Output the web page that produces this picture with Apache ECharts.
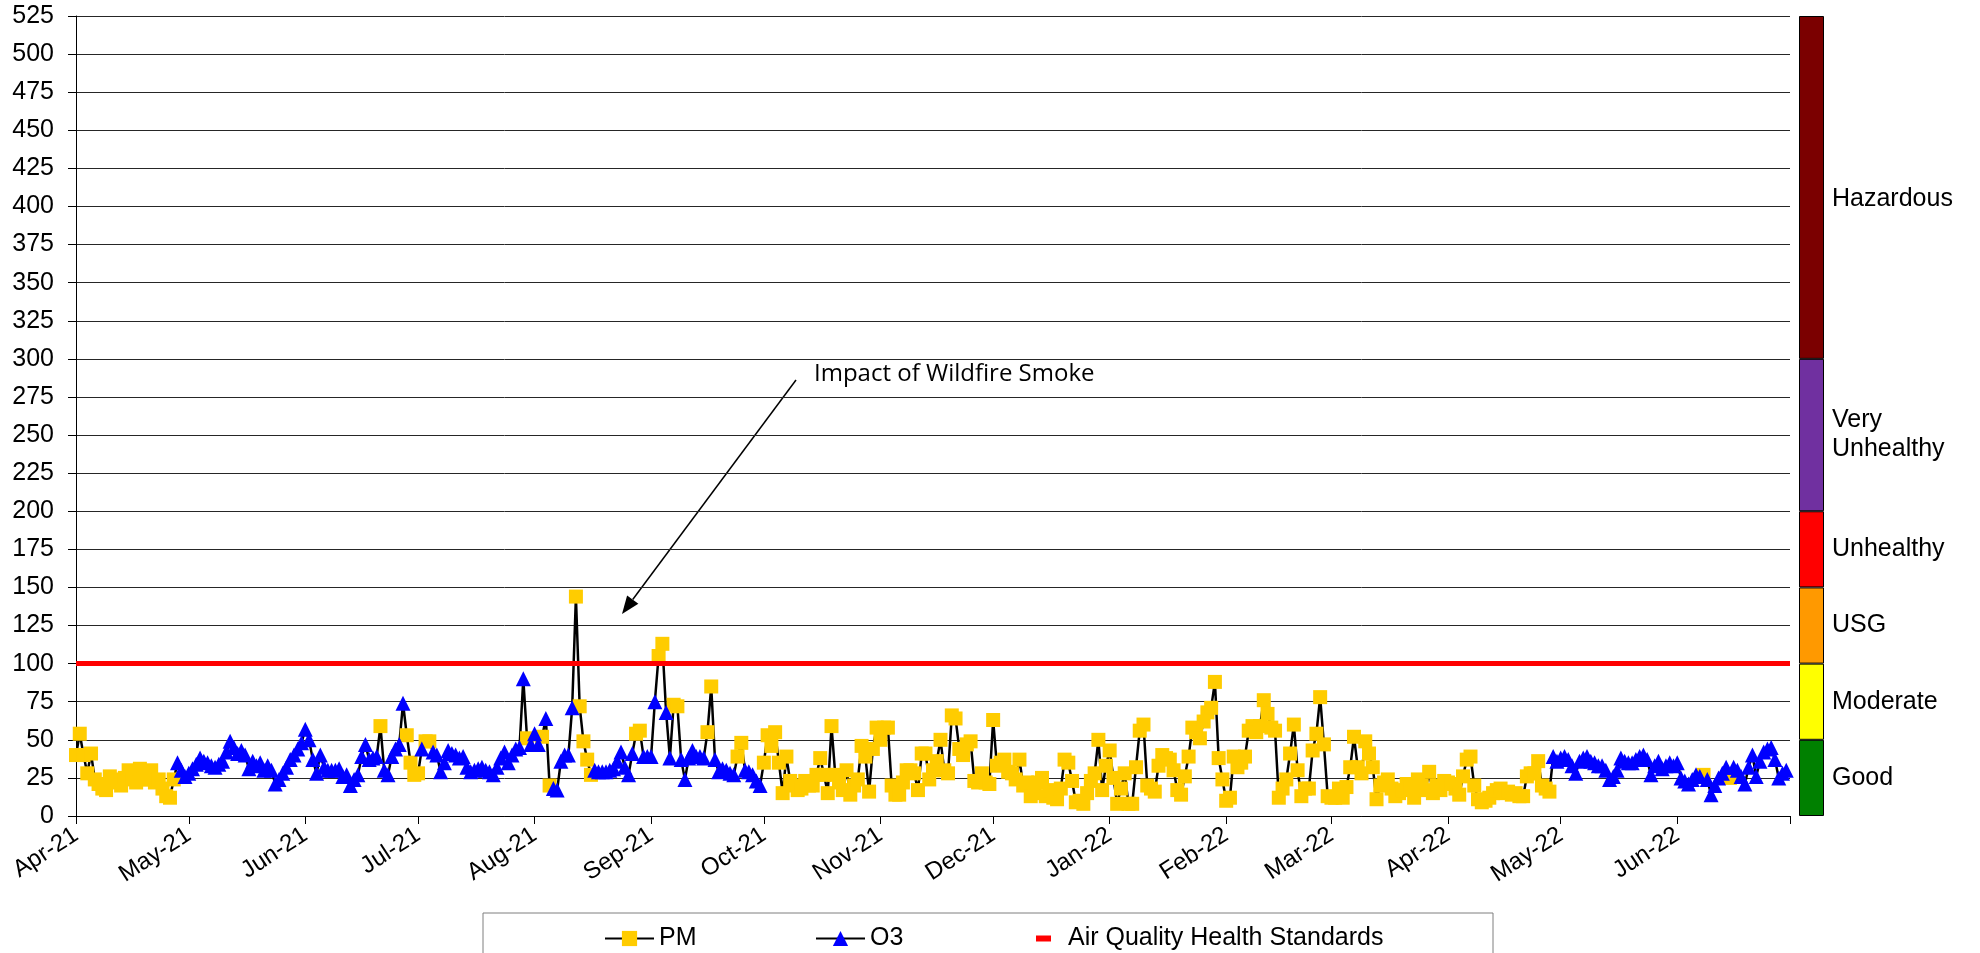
<!DOCTYPE html>
<html>
<head>
<meta charset="utf-8">
<title>Air Quality</title>
<script src="https://cdn.jsdelivr.net/npm/echarts@6/dist/echarts.min.js"></script>
<style>
  html, body { margin: 0; padding: 0; background: #fff; }
  #main { width: 1980px; height: 953px; }
</style>
</head>
<body>
<div id="main"></div>
<script>
// daily AQI values, one array per month; P = PM dominant, O = O3 dominant
var apr21 = [40,54,40,28,41,24,21,18,17,26,22,24,20,25,30,24,22,31,24,24,30,22,24,18,13,12,24,35,30,26];
var apr21T = 'PPPPPPPPPPPPPPPPPPPPPPPPPPPOOO';
var may21 = [28,31,34,38,36,35,33,32,34,36,42,49,45,41,43,40,31,36,33,35,30,33,30,21,24,28,32,37,40,44,48];
var may21T = 'OOOOOOOOOOOOOOOOOOOOOOOOOOOOOOO';
var jun21 = [57,50,37,28,40,32,30,30,30,31,26,27,20,24,27,39,47,37,38,39,59,30,27,39,44,47,74,53,35,27];
var jun21T = 'OOOOOOOOOOOOOOOOOOOOPOOOOOOPPP';
var jul21 = [28,44,49,49,42,40,29,35,43,41,40,38,39,32,29,30,31,32,30,29,27,32,38,42,35,40,44,45,90,51,47];
var jul21T = 'POPPOOOOOOOOOOOOOOOOOOOOOOOOOPO';
var aug21 = [54,47,52,64,20,18,17,36,40,40,71,144,72,49,37,27,30,29,29,29,30,31,36,42,32,27,41,54,56,39,39];
var aug21T = 'OOPOPOOOOOOPPPPPOOOOOOOOOOOPPOO';
var sep21 = [39,75,105,113,68,38,73,72,37,24,38,43,39,39,38,55,85,37,29,31,30,28,27,39,48,30,29,27,23,20];
var sep21T = 'OOPPOOPPOOOOOOOPPOOOOOOPPOOOOO';
var oct21 = [35,53,46,55,35,15,39,23,20,17,18,23,20,20,27,38,27,15,59,27,22,17,30,14,20,24,46,39,16,44,58];
var oct21T = 'PPPPPPPPPPPPPPPPPPPPPPPPPPPPPPP';
var nov21 = [50,58,58,20,14,14,22,30,30,28,17,41,41,24,30,36,50,30,28,66,64,44,40,47,49,23,22,28,22,21];
var nov21T = 'PPPPPPPPPPPPPPPPPPPPPPPPPPPPPP';
var dec21 = [63,33,35,37,29,28,24,37,20,22,13,15,22,25,13,17,12,11,18,37,35,23,9,10,8,15,23,28,50,17,33];
var dec21T = 'PPPPPPPPPPPPPPPPPPPPPPPPPPPPPPP';
var jan22 = [43,25,8,18,28,8,8,32,56,60,20,18,16,33,40,38,37,30,17,14,26,39,58,55,51,62,68,71,88,38,24];
var jan22T = 'PPPPPPPPPPPPPPPPPPPPPPPPPPPPPPP';
var feb22 = [10,12,39,32,35,39,56,59,55,59,76,67,58,56,12,18,24,41,60,30,13,18,18,43,54,78,47,13];
var feb22T = 'PPPPPPPPPPPPPPPPPPPPPPPPPPPP';
var mar22 = [12,12,18,12,19,32,52,32,28,49,41,32,11,20,22,24,18,13,15,17,21,18,12,24,20,17,29,15,20,17,23];
var mar22T = 'PPPPPPPPPPPPPPPPPPPPPPPPPPPPPPP';
var apr22 = [22,21,18,14,26,37,39,20,11,9,10,12,15,17,18,15,16,14,15,13,13,26,28,28,36,20,18,16,39,36];
var apr22T = 'PPPPPPPPPPPPPPPPPPPPPPPPPPPPOO';
var may22 = [38,39,37,33,28,36,38,39,36,35,33,33,30,24,26,30,38,36,35,35,37,39,40,37,27,33,36,31,33,35,33];
var may22T = 'OOOOOOOOOOOOOOOOOOOOOOOOOOOOOOO';
var jun22 = [35,25,23,21,24,27,26,27,24,14,20,25,28,32,25,32,30,26,21,32,40,26,36,42,44,45,37,25,28,30];
var jun22T = 'OOOOOOOPOOOOOOPOOOOOOOOOOOOOOO';

var startDate = '2021-04-01';
var standard = 100;
var yTicks = { min: 0, max: 525, interval: 25 };

var bandNames = ['Good', 'Moderate', 'USG', 'Unhealthy', 'Very\nUnhealthy', 'Hazardous'];
var bandSizes = [50, 50, 50, 50, 100, 225];
var bandColors = ['#008000', '#FFFF00', '#FF9900', '#FF0000', '#7030A0', '#7B0000'];

var monthNames = ['Jan','Feb','Mar','Apr','May','Jun','Jul','Aug','Sep','Oct','Nov','Dec'];

var months = [
  [apr21, apr21T], [may21, may21T], [jun21, jun21T], [jul21, jul21T],
  [aug21, aug21T], [sep21, sep21T], [oct21, oct21T], [nov21, nov21T],
  [dec21, dec21T], [jan22, jan22T], [feb22, feb22T], [mar22, mar22T],
  [apr22, apr22T], [may22, may22T], [jun22, jun22T]
];

var aqi = [], kind = [];
months.forEach(function (m) {
  m[0].forEach(function (v, i) { aqi.push(v); kind.push(m[1][i]); });
});

// one category per day, plus the closing 1 July tick
var dates = [];
var t0 = Date.parse(startDate + 'T00:00:00Z');
for (var i = 0; i <= aqi.length; i++) {
  dates.push(new Date(t0 + i * 86400000).toISOString().slice(0, 10));
}

var pmData = aqi.map(function (v, i) { return kind[i] === 'P' ? v : null; });
var o3Data = aqi.map(function (v, i) { return kind[i] === 'O' ? v : null; });

var font = '"Liberation Sans", Arial, sans-serif';

var myChart = echarts.init(document.getElementById('main'));

var bandSeries = bandNames.map(function (n, i) {
  return {
    name: n,
    type: 'bar',
    stack: 'band',
    xAxisIndex: 1,
    yAxisIndex: 1,
    barWidth: '100%',
    data: [bandSizes[i]],
    itemStyle: { color: bandColors[i], borderColor: '#000', borderWidth: 1 },
    label: {
      show: true,
      position: 'right',
      distance: 8,
      formatter: n,
      color: '#000',
      fontSize: 25,
      fontFamily: font,
      lineHeight: 29,
      offset: i === 5 ? [0, 12] : [0, 0]
    },
    silent: true
  };
});

// arrow for the annotation
var tail = [796, 380], tip = [622, 614];
var dx = tip[0] - tail[0], dy = tip[1] - tail[1];
var len = Math.sqrt(dx * dx + dy * dy), ux = dx / len, uy = dy / len;
var bx = tip[0] - 18 * ux, by = tip[1] - 18 * uy;
var head = [tip, [bx + 7 * uy, by - 7 * ux], [bx - 7 * uy, by + 7 * ux]];

var option = {
  animation: false,
  backgroundColor: '#fff',
  grid: [
    { left: 76, right: 190, top: 16, bottom: 137 },
    { left: 1799, width: 25, top: 16, bottom: 137 }
  ],
  legend: [
    {
      left: 599, top: 921, itemWidth: 49, itemHeight: 19, selectedMode: false,
      textStyle: { fontSize: 25, fontFamily: font, color: '#000' },
      data: [{ name: 'PM', lineStyle: { color: '#000', width: 2, opacity: 1 } }]
    },
    {
      left: 810, top: 921, itemWidth: 49, itemHeight: 19, selectedMode: false,
      textStyle: { fontSize: 25, fontFamily: font, color: '#000' },
      data: [{ name: 'O3', lineStyle: { color: '#000', width: 2, opacity: 1 } }]
    },
    {
      left: 1031, top: 921, itemWidth: 15, itemHeight: 6, selectedMode: false,
      textStyle: { fontSize: 25, fontFamily: font, color: '#000', padding: [0, 0, 0, 12] },
      data: [{ name: 'Air Quality Health Standards', icon: 'rect' }]
    }
  ],
  graphic: [
    { type: 'rect', shape: { x: 483, y: 913, width: 1010, height: 60 },
      style: { fill: '#fff', stroke: '#7f7f7f', lineWidth: 1 }, z: -1 },
    { type: 'text', left: 814, top: 362,
      style: { text: 'Impact of Wildfire Smoke', fontSize: 24, fontFamily: '"Open Sans", sans-serif', fill: '#000' } },
    { type: 'line', shape: { x1: tail[0], y1: tail[1], x2: bx, y2: by },
      style: { stroke: '#000', lineWidth: 1.5 } },
    { type: 'polygon', shape: { points: head }, style: { fill: '#000' } }
  ],
  xAxis: [
    {
      type: 'category',
      gridIndex: 0,
      boundaryGap: false,
      data: dates,
      axisLine: { lineStyle: { color: '#000', width: 1 } },
      axisTick: {
        length: 8,
        lineStyle: { color: '#000' },
        interval: function (idx, val) { return val.slice(8) === '01'; }
      },
      axisLabel: {
        interval: function (idx, val) { return val.slice(8) === '01' && idx < aqi.length; },
        formatter: function (val) {
          return monthNames[+val.slice(5, 7) - 1] + '-' + val.slice(2, 4);
        },
        rotate: 33,
        margin: 17,
        fontSize: 24,
        fontFamily: font,
        color: '#000'
      },
      splitLine: { show: false }
    },
    { type: 'category', gridIndex: 1, data: ['band'], show: false }
  ],
  yAxis: [
    {
      type: 'value',
      gridIndex: 0,
      min: yTicks.min,
      max: yTicks.max,
      interval: yTicks.interval,
      axisLine: { show: true, lineStyle: { color: '#000' } },
      axisTick: { show: true, length: 8, lineStyle: { color: '#000' } },
      axisLabel: { fontSize: 25, fontFamily: font, color: '#000', margin: 22 },
      splitLine: { lineStyle: { color: '#262626', width: 1 } }
    },
    { type: 'value', gridIndex: 1, min: yTicks.min, max: yTicks.max, show: false }
  ],
  series: [
    {
      name: 'AQI',
      type: 'line',
      data: aqi,
      symbol: 'none',
      lineStyle: { color: '#000', width: 2.5 },
      z: 2,
      silent: true
    },
    {
      name: 'PM',
      type: 'line',
      data: pmData,
      symbol: 'rect',
      symbolSize: 14,
      showAllSymbol: true,
      itemStyle: { color: '#FFCC00' },
      lineStyle: { width: 0, opacity: 0 },
      z: 3
    },
    {
      name: 'O3',
      type: 'line',
      data: o3Data,
      symbol: 'triangle',
      symbolSize: 15,
      showAllSymbol: true,
      itemStyle: { color: '#0000FF' },
      lineStyle: { width: 0, opacity: 0 },
      z: 4
    },
    {
      name: 'Air Quality Health Standards',
      type: 'line',
      data: [],
      itemStyle: { color: '#FF0000' },
      markLine: {
        silent: true,
        symbol: ['none', 'none'],
        label: { show: false },
        lineStyle: { color: '#FF0000', width: 5, type: 'solid' },
        data: [{ yAxis: standard }]
      },
      z: 5
    }
  ].concat(bandSeries)
};

myChart.setOption(option);

window.onresize = function () {
  myChart.resize();
};
</script>
</body>
</html>
